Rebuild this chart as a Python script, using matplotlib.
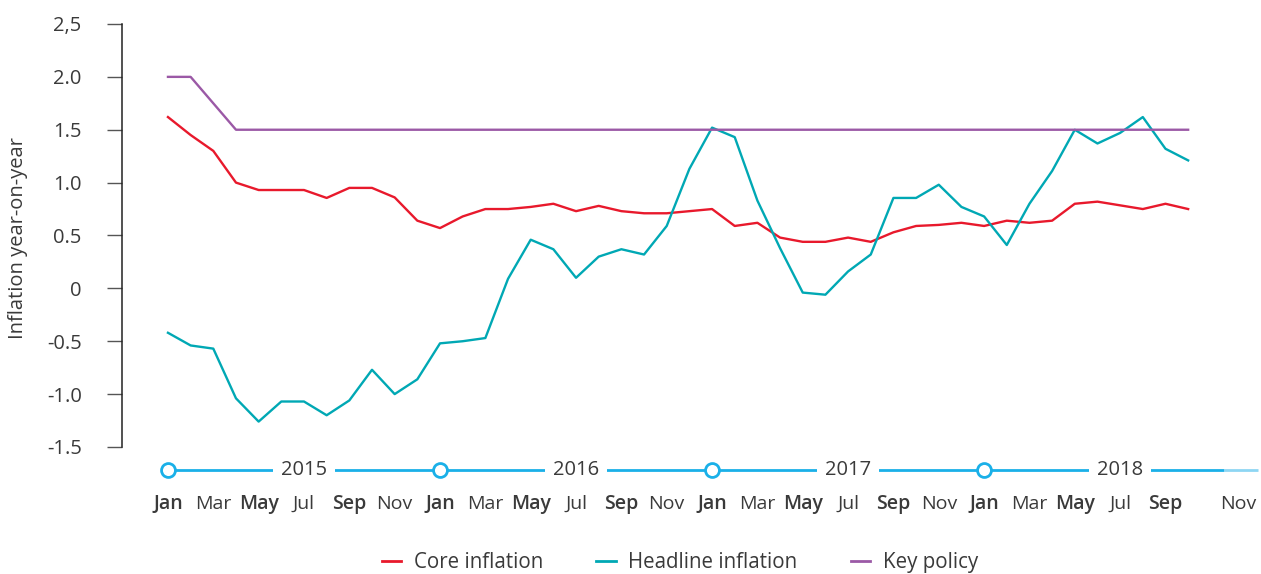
import matplotlib.pyplot as plt
from matplotlib.lines import Line2D

# 2015-01 .. 2018-10, monthly
core = [1.62, 1.45, 1.30, 1.00, 0.93, 0.93, 0.93, 0.855, 0.95, 0.95, 0.86, 0.64,
        0.57, 0.68, 0.75, 0.75, 0.77, 0.80, 0.73, 0.78, 0.73, 0.71, 0.71, 0.73,
        0.75, 0.59, 0.62, 0.48, 0.44, 0.44, 0.48, 0.44, 0.53, 0.59, 0.60, 0.62,
        0.59, 0.64, 0.62, 0.64, 0.80, 0.82, 0.785, 0.75, 0.80, 0.75]
headline = [-0.42, -0.54, -0.57, -1.04, -1.26, -1.07, -1.07, -1.20, -1.06, -0.77, -1.00, -0.86,
            -0.52, -0.50, -0.47, 0.09, 0.46, 0.37, 0.10, 0.30, 0.37, 0.32, 0.59, 1.13,
            1.52, 1.43, 0.83, 0.38, -0.04, -0.06, 0.16, 0.32, 0.855, 0.855, 0.98, 0.77,
            0.68, 0.41, 0.80, 1.11, 1.50, 1.37, 1.47, 1.62, 1.32, 1.21]
key_policy = [2.0, 2.0, 1.75] + [1.5] * 43

years = ["2015", "2016", "2017", "2018"]
month_names = ["Jan", "Mar", "May", "Jul", "Sep", "Nov"]
bold_months = {"Jan", "May", "Sep"}
ytick_vals = [2.5, 2.0, 1.5, 1.0, 0.5, 0, -0.5, -1.0, -1.5]
ytick_labels = ["2,5", "2.0", "1.5", "1.0", "0.5", "0", "-0.5", "-1.0", "-1.5"]

RED = "#e8192c"
TEAL = "#00a8b4"
PURPLE = "#9b59a6"
BLUE = "#1ab0e8"
TXT = "#3a3a3a"

plt.rcParams["font.family"] = ["Open Sans", "DejaVu Sans"]

fig = plt.figure(figsize=(12.61, 5.74), dpi=100)
ax = fig.add_axes([0.0967, 0.2213, 0.9009, 0.7369])

x = list(range(len(core)))
ax.plot(x, core, color=RED, lw=1.7, label="Core inflation")
ax.plot(x, headline, color=TEAL, lw=1.7, label="Headline inflation")
ax.plot(x, key_policy, color=PURPLE, lw=1.7, label="Key policy")

ax.set_xlim(-2.03, 48.08)
ax.set_ylim(-1.5, 2.5)

for s in ["top", "right", "bottom"]:
    ax.spines[s].set_visible(False)
ax.spines["left"].set_color("#222222")
ax.spines["left"].set_linewidth(1.1)

ax.set_yticks(ytick_vals)
ax.set_yticklabels(ytick_labels, fontsize=14.5, color=TXT)
ax.tick_params(axis="y", length=11, width=1, color="#555555", pad=18)
ax.set_ylabel("Inflation year-on-year", fontsize=14.5, color=TXT)
ax.yaxis.set_label_coords(-0.083, 0.495)

# month labels under the timeline
ax.set_xticks([])
tr = ax.get_xaxis_transform()
month_pos = list(range(0, 46, 2)) + [47.2]
for i, pos in enumerate(month_pos):
    name = month_names[i % 6]
    ax.text(pos, -0.135, name, transform=tr, ha="center", va="center",
            fontsize=14, color=TXT,
            fontweight="semibold" if name in bold_months else "normal",
            clip_on=False)

# timeline band with year markers
tl_y = -0.0544
ax.plot([0, 46.6], [tl_y, tl_y], transform=tr, color=BLUE, lw=2, clip_on=False,
        solid_capstyle="butt")
ax.plot([46.6, 48.08], [tl_y, tl_y], transform=tr, color="#8ed6f3", lw=2,
        clip_on=False, solid_capstyle="butt")
for j, yr in enumerate(years):
    ax.plot(j * 12, tl_y, "o", transform=tr, ms=10, mfc="white", mec=BLUE,
            mew=2, clip_on=False, zorder=5)
    ax.text(j * 12 + 6, tl_y, yr, transform=tr, ha="center", va="center",
            fontsize=14.5, color=TXT, zorder=6, clip_on=False,
            bbox=dict(facecolor="white", edgecolor="none", pad=6))

handles = [Line2D([], [], color=c, lw=2) for c in (RED, TEAL, PURPLE)]
fig.legend(handles, ["Core inflation", "Headline inflation", "Key policy"],
           loc="center", bbox_to_anchor=(0.539, 0.02), ncol=3, frameon=False,
           fontsize=14.8, handlelength=0.95, handletextpad=0.6, columnspacing=2.6,
           labelcolor=TXT)

fig.savefig("out.png", dpi=100)
